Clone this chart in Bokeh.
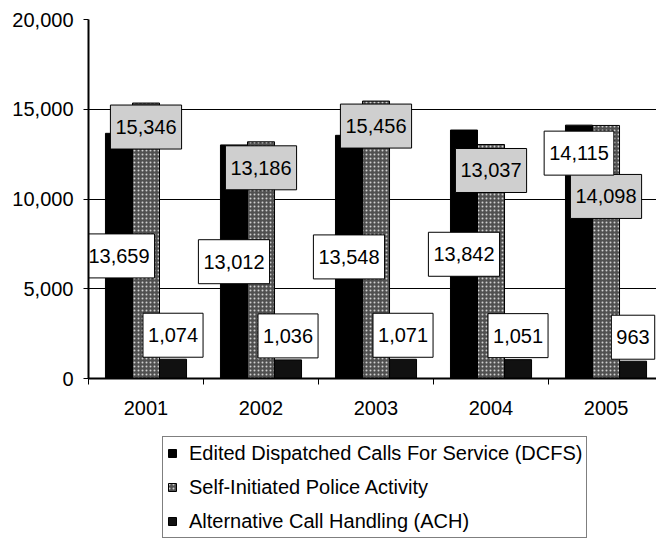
from bokeh.plotting import figure
from bokeh.layouts import column
from bokeh.models import ColumnDataSource, FixedTicker, NumeralTickFormatter, Legend, LegendItem
from bokeh.core.properties import value
from bokeh.embed import file_html
from bokeh.resources import INLINE

# ---- data ----
categories = ["2001", "2002", "2003", "2004", "2005"]
dcfs = [13659, 13012, 13548, 13842, 14115]
self_init = [15346, 13186, 15456, 13037, 14098]
ach = [1074, 1036, 1071, 1051, 963]
series_names = [
    "Edited Dispatched Calls For Service (DCFS)",
    "Self-Initiated Police Activity",
    "Alternative Call Handling (ACH)",
]
y_ticks = [0, 5000, 10000, 15000, 20000]

# ---- layout / style ----
FONT = "Liberation Sans"
n = len(categories)
bw = 0.235
centers = [i + 0.5 for i in range(n)]

p = figure(width=656, height=430, x_range=(0, 4.939), y_range=(0, 20000),
           output_backend="svg", toolbar_location=None,
           min_border_left=88, min_border_right=0, min_border_top=19, min_border_bottom=52)
p.outline_line_color = None
p.background_fill_color = "white"
p.border_fill_color = "white"
p.xgrid.visible = False
p.ygrid.grid_line_color = "black"
p.ygrid.grid_line_width = 1

p.yaxis.ticker = FixedTicker(ticks=y_ticks)
p.yaxis.formatter = NumeralTickFormatter(format="0,0")
p.yaxis.major_label_text_font = FONT
p.yaxis.major_label_text_font_size = "20px"
p.yaxis.major_label_text_color = "black"
p.yaxis.axis_line_color = "black"
p.yaxis.axis_line_width = 2
p.yaxis.major_tick_out = 5
p.yaxis.major_tick_in = 0
p.yaxis.major_tick_line_color = "black"
p.yaxis.minor_tick_line_color = None
p.yaxis.major_label_standoff = 10

p.xaxis.ticker = FixedTicker(ticks=centers, minor_ticks=list(range(n + 1)))
p.xaxis.major_label_overrides = {c: lab for c, lab in zip(centers, categories)}
p.xaxis.major_label_text_font = FONT
p.xaxis.major_label_text_font_size = "20px"
p.xaxis.major_label_text_color = "black"
p.xaxis.axis_line_color = "black"
p.xaxis.axis_line_width = 2
p.xaxis.major_tick_out = 0
p.xaxis.major_tick_in = 0
p.xaxis.major_tick_line_color = None
p.xaxis.minor_tick_out = 6
p.xaxis.minor_tick_in = 0
p.xaxis.minor_tick_line_color = "black"
p.xaxis.minor_tick_line_width = 1
p.xaxis.major_label_standoff = 16

# bars
x_d = [c - bw for c in centers]
x_s = centers
x_a = [c + bw for c in centers]
style_d = dict(fill_color="black", line_color="black")
style_s = dict(fill_color="#505050", line_color="black",
               hatch_pattern="dot", hatch_color="#d0d0d0", hatch_scale=4, hatch_weight=1)
style_a = dict(fill_color="#111111", line_color="black")
p.vbar(x=x_d, top=dcfs, width=bw, bottom=0, **style_d)
p.vbar(x=x_s, top=self_init, width=bw, bottom=0, **style_s)
p.vbar(x=x_a, top=ach, width=bw, bottom=0, **style_a)

# data labels
fmt = lambda v: f"{v:,}"
dcfs_mid = [True, True, True, True, False]
lab_d = ColumnDataSource(dict(
    x=x_d,
    y=[v / 2 if m else v for v, m in zip(dcfs, dcfs_mid)],
    off=[0 if m else 28 for m in dcfs_mid],
    text=[fmt(v) for v in dcfs]))
self_off = [24, 26, 25, 26, 71]
lab_s = ColumnDataSource(dict(x=x_s, y=self_init, off=self_off, text=[fmt(v) for v in self_init]))
lab_a = ColumnDataSource(dict(x=x_a, y=ach, off=[-24] * n, text=[fmt(v) for v in ach]))

common = dict(x="x", y="y", text="text", y_offset="off", text_align="center",
              text_baseline="middle", text_font=value(FONT), text_font_size="20px",
              text_color="black", border_line_color="black", border_line_width=1, padding=(5, 15))
p.text(source=lab_s, background_fill_color="#cfcfcf", **common)
p.text(source=lab_a, background_fill_color="white", **common)
p.text(source=lab_d, background_fill_color="white", **common)

# legend panel (separate figure directly below; its frame aligns with the chart's)
q = figure(width=656, height=116, x_range=(0, 1), y_range=(0, 1),
           x_axis_location=None, y_axis_location=None,
           output_backend="svg", toolbar_location=None,
           min_border_left=0, min_border_right=0, min_border_top=0, min_border_bottom=0)
q.grid.visible = False
q.outline_line_color = None
q.background_fill_color = "white"
q.border_fill_color = "white"
l1 = q.vbar(x=[0.5], top=[1], width=0.1, visible=False, **style_d)
l2 = q.vbar(x=[0.5], top=[1], width=0.1, visible=False, **style_s)
l3 = q.vbar(x=[0.5], top=[1], width=0.1, visible=False, **style_a)

legend = Legend(items=[LegendItem(label=series_names[0], renderers=[l1]),
                       LegendItem(label=series_names[1], renderers=[l2]),
                       LegendItem(label=series_names[2], renderers=[l3])],
                location=(74, 8), orientation="vertical",
                label_text_font=FONT, label_text_font_size="20px", label_text_color="black",
                glyph_width=10, glyph_height=10, label_height=24, label_standoff=12,
                spacing=10, padding=4, margin=0, inactive_fill_alpha=0,
                border_line_color="black", border_line_width=1,
                background_fill_color="white", background_fill_alpha=1)
q.add_layout(legend)

layout = column(p, q, spacing=0)
open("out.html", "w").write(file_html(layout, INLINE))
